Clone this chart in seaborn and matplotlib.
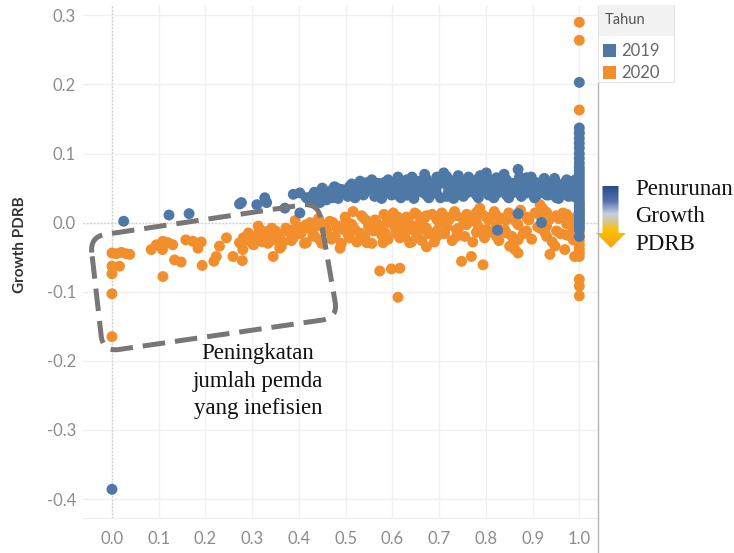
import numpy as np
import pandas as pd
import matplotlib
matplotlib.use("Agg")
import matplotlib.pyplot as plt
import seaborn as sns
from matplotlib.path import Path
from matplotlib.patches import PathPatch, Polygon, Rectangle, Patch
from matplotlib.colors import LinearSegmentedColormap
from matplotlib.lines import Line2D

# ---------------- data ----------------
years = ["2019", "2020"]
colors = ["#4e79a7", "#f28e2b"]

x_2019 = [0.0, 0.025, 0.122, 0.165, 0.273, 0.277, 0.31, 0.327, 0.331, 0.37, 0.388, 0.402, 0.402, 0.416,
          0.445, 0.459, 0.481, 0.495, 0.516, 0.534, 0.552, 0.573, 0.588, 0.609, 0.631, 0.644, 0.655, 0.445, 0.459, 0.438,
          0.425, 0.430, 0.452, 0.468, 0.472, 0.488, 0.502, 0.508, 0.523, 0.528, 0.541, 0.546, 0.558, 0.565, 0.579,
          0.583, 0.594, 0.600, 0.604, 0.615, 0.620, 0.626, 0.637, 0.648,
          0.630, 0.630, 0.652, 0.652, 0.673, 0.673, 0.673, 0.695, 0.695, 0.695, 0.716, 0.716, 0.716,
          0.737, 0.737, 0.737, 0.759, 0.759, 0.759, 0.780, 0.780, 0.780, 0.801, 0.801, 0.801,
          0.823, 0.823, 0.823, 0.844, 0.844, 0.844, 0.869, 0.869, 0.869, 0.887, 0.887, 0.887,
          0.908, 0.908, 0.908, 0.930, 0.930, 0.930, 0.951, 0.951, 0.951, 0.973, 0.973, 0.973, 0.987, 0.987, 0.987,
          0.640, 0.662, 0.684, 0.705, 0.727, 0.748, 0.770, 0.791, 0.812, 0.833, 0.856, 0.878, 0.898, 0.919, 0.940,
          0.962, 0.980, 0.995,
          0.825, 0.869, 0.919,
          1.0, 1.0, 1.0, 1.0, 1.0, 1.0, 1.0, 1.0, 1.0, 1.0, 1.0, 1.0, 1.0, 1.0, 1.0, 1.0, 1.0, 1.0, 1.0,
          1.0, 1.0, 1.0, 1.0, 1.0, 1.0, 1.0, 1.0, 1.0, 1.0]
y_2019 = [-0.386, 0.002, 0.011, 0.013, 0.027, 0.029, 0.026, 0.036, 0.029, 0.021, 0.041, 0.043, 0.014, 0.036,
          0.045, 0.043, 0.050, 0.045, 0.048, 0.053, 0.055, 0.050, 0.055, 0.060, 0.062, 0.058, 0.048, 0.029, 0.033, 0.036,
          0.030, 0.040, 0.038, 0.046, 0.036, 0.040, 0.043, 0.052, 0.041, 0.047, 0.044, 0.058, 0.046, 0.052, 0.043,
          0.058, 0.047, 0.052, 0.041, 0.055, 0.047, 0.052, 0.045, 0.052,
          0.055, 0.040, 0.060, 0.045, 0.063, 0.050, 0.040, 0.066, 0.052, 0.042, 0.067, 0.055, 0.038,
          0.063, 0.048, 0.040, 0.060, 0.050, 0.043, 0.062, 0.053, 0.040, 0.072, 0.058, 0.045,
          0.065, 0.050, 0.042, 0.062, 0.052, 0.040, 0.077, 0.060, 0.048, 0.065, 0.054, 0.043,
          0.058, 0.048, 0.039, 0.060, 0.050, 0.040, 0.057, 0.047, 0.036, 0.062, 0.050, 0.042, 0.060, 0.048, 0.038,
          0.050, 0.055, 0.046, 0.060, 0.052, 0.056, 0.046, 0.050, 0.055, 0.046, 0.057, 0.050, 0.053, 0.044, 0.055,
          0.044, 0.055, 0.045,
          -0.011, 0.013, 0.0,
          0.203, 0.137, 0.130, 0.122, 0.115, 0.108, 0.100, 0.093, 0.086, 0.080, 0.075, 0.070, 0.065, 0.060, 0.055,
          0.050, 0.045, 0.040, 0.035, 0.030, 0.025, 0.020, 0.015, 0.010, 0.005, 0.000, -0.005, -0.010, -0.020]

# additional 2019 points filling the dense band
x_2019_band = [0.420, 0.433, 0.441, 0.450, 0.463, 0.476, 0.484, 0.492, 0.505, 0.513, 0.520, 0.531, 0.538, 0.549,
               0.556, 0.562, 0.570, 0.577, 0.586, 0.591, 0.598, 0.607, 0.612, 0.618, 0.624, 0.634, 0.642, 0.646,
               0.658, 0.664, 0.669, 0.678, 0.682, 0.690, 0.699, 0.703, 0.710, 0.720, 0.724, 0.731, 0.741, 0.745,
               0.752, 0.763, 0.767, 0.775, 0.784, 0.788, 0.796, 0.806, 0.810, 0.817, 0.828, 0.832, 0.839, 0.849,
               0.853, 0.861, 0.872, 0.876, 0.883, 0.893, 0.897, 0.904, 0.913, 0.917, 0.925, 0.935, 0.944, 0.947,
               0.956, 0.966, 0.969, 0.977, 0.984, 0.992]
y_2019_band = [0.036, 0.044, 0.032, 0.050, 0.040, 0.052, 0.035, 0.048, 0.038, 0.056, 0.036, 0.060, 0.040, 0.050,
               0.062, 0.038, 0.057, 0.035, 0.048, 0.062, 0.040, 0.050, 0.066, 0.036, 0.058, 0.040, 0.066, 0.035,
               0.060, 0.044, 0.070, 0.036, 0.056, 0.046, 0.060, 0.036, 0.072, 0.045, 0.058, 0.035, 0.068, 0.052,
               0.038, 0.066, 0.045, 0.056, 0.036, 0.068, 0.050, 0.040, 0.062, 0.036, 0.058, 0.046, 0.070, 0.036,
               0.056, 0.044, 0.066, 0.038, 0.058, 0.046, 0.066, 0.036, 0.054, 0.044, 0.064, 0.040, 0.052, 0.064,
               0.035, 0.056, 0.046, 0.038, 0.052, 0.062]

x_2020 = [0.0, 0.0, 0.0, 0.0, 0.0, 0.009, 0.02, 0.031, 0.038, 0.016, 0.084, 0.095, 0.109, 0.12, 0.130, 0.108,
          0.134, 0.148, 0.109, 0.158, 0.173, 0.191, 0.184, 0.193, 0.230, 0.245, 0.223, 0.218, 0.259, 0.273,
          0.287, 0.28, 0.279,
          0.281, 0.295, 0.317, 0.331, 0.345, 0.359, 0.381, 0.395, 0.409, 0.424, 0.438, 0.452, 0.473, 0.488,
          0.502, 0.516, 0.520, 0.538, 0.552, 0.573, 0.588, 0.602, 0.616, 0.630, 0.644, 0.659,
          0.345, 0.359, 0.416, 0.445, 0.488, 0.509, 0.545, 0.580, 0.616, 0.637,
          0.300, 0.310, 0.322, 0.338, 0.350, 0.366, 0.372, 0.388, 0.400, 0.415, 0.430, 0.460, 0.478, 0.495,
          0.512, 0.530, 0.545, 0.560, 0.566, 0.585, 0.595, 0.608, 0.622, 0.650,
          0.630, 0.630, 0.652, 0.652, 0.652, 0.673, 0.673, 0.695, 0.695, 0.695, 0.716, 0.716,
          0.737, 0.737, 0.737, 0.759, 0.759, 0.780, 0.780, 0.780, 0.787, 0.801, 0.801,
          0.823, 0.823, 0.823, 0.844, 0.844, 0.869, 0.869, 0.869, 0.887, 0.887,
          0.916, 0.916, 0.916, 0.930, 0.930, 0.930, 0.951, 0.951, 0.973, 0.973, 0.973, 0.987, 0.987, 0.987,
          0.673, 0.748, 0.769, 0.794, 0.851, 0.862, 0.869, 0.937, 0.948, 0.969, 0.990, 0.612, 0.573, 0.598, 0.616,
          1.0, 1.0, 1.0, 1.0, 1.0, 1.0, 1.0, 1.0, 1.0, 1.0, 1.0, 1.0, 1.0, 1.0, 1.0, 1.0, 1.0, 1.0, 1.0,
          1.0, 1.0]
y_2020 = [-0.044, -0.063, -0.074, -0.103, -0.165, -0.045, -0.043, -0.045, -0.046, -0.063, -0.039, -0.032,
          -0.027, -0.029, -0.032, -0.039, -0.054, -0.057, -0.078, -0.025, -0.027, -0.028, -0.037, -0.062,
          -0.034, -0.022, -0.049, -0.056, -0.049, -0.029, -0.025, -0.039, -0.055,
          -0.022, -0.025, -0.010, -0.013, -0.025, -0.020, -0.015, -0.005, -0.010, 0.000, -0.005, -0.003, 0.000,
          -0.005, 0.002, 0.016, -0.010, 0.007, -0.005, -0.010, 0.000, 0.014, -0.005, 0.000, -0.010, 0.000,
          -0.049, -0.037, -0.029, -0.025, -0.037, -0.022, -0.029, -0.029, -0.022, -0.029,
          -0.030, -0.018, -0.028, -0.020, -0.012, -0.028, -0.008, -0.022, -0.015, -0.003, -0.018, -0.012,
          -0.020, -0.010, -0.002, -0.015, 0.003, -0.012, 0.000, -0.015, 0.005, -0.015, 0.003, -0.005,
          0.008, -0.012, 0.012, -0.005, -0.018, 0.010, -0.008, 0.005, -0.012, -0.020, 0.008, -0.006,
          0.010, -0.010, -0.020, 0.012, -0.003, 0.015, 0.000, -0.014, 0.021, 0.008, -0.010,
          0.010, -0.005, -0.020, 0.004, -0.015, 0.012, -0.003, -0.025, 0.008, -0.012,
          0.026, 0.010, -0.008, 0.015, -0.005, -0.020, 0.010, -0.012, 0.012, -0.002, -0.018, 0.005, -0.010, -0.025,
          -0.035, -0.056, -0.049, -0.061, -0.034, -0.039, -0.044, -0.046, -0.034, -0.039, -0.049, -0.108, -0.070,
          -0.067, -0.066,
          0.290, 0.264, 0.163, 0.129, 0.028, 0.022, 0.016, 0.010, 0.004, -0.002, -0.008, -0.014, -0.020,
          -0.026, -0.032, -0.038, -0.044, -0.049, -0.082, -0.092, -0.106]

# additional 2020 points filling the dense band
x_2020_band = [0.292, 0.303, 0.313, 0.326, 0.334, 0.342, 0.355, 0.362, 0.376, 0.384, 0.392, 0.404, 0.412, 0.420,
               0.434, 0.442, 0.449, 0.456, 0.466, 0.470, 0.482, 0.491, 0.499, 0.506, 0.514, 0.524, 0.534, 0.541,
               0.549, 0.556, 0.563, 0.577, 0.582, 0.591, 0.605, 0.612, 0.626, 0.634, 0.641, 0.648, 0.656, 0.663,
               0.668, 0.677, 0.685, 0.690, 0.700, 0.706, 0.712, 0.721, 0.728, 0.733, 0.742, 0.750, 0.755, 0.764,
               0.772, 0.776, 0.784, 0.792, 0.797, 0.806, 0.813, 0.818, 0.828, 0.835, 0.840, 0.849, 0.856, 0.864,
               0.874, 0.880, 0.892, 0.898, 0.905, 0.911, 0.922, 0.926, 0.935, 0.942, 0.956, 0.960, 0.965, 0.978,
               0.982, 0.994]
y_2020_band = [-0.015, -0.032, -0.005, -0.022, -0.030, -0.008, -0.018, -0.035, -0.010, -0.026,
               0.003, -0.016, -0.030, -0.008, -0.020, 0.006, -0.030, -0.012, 0.002, -0.024,
               -0.008, -0.030, 0.008, -0.018, -0.004, -0.028, 0.010, -0.020, -0.006, -0.030,
               0.004, -0.018, 0.012, -0.024, -0.006, 0.008, -0.020, 0.004, -0.028, 0.014,
               -0.012, -0.026, 0.006, -0.016, 0.012, -0.028, 0.000, 0.014, -0.016, 0.004,
               -0.026, 0.016, -0.008, 0.006, -0.020, 0.010, -0.028, 0.002, -0.006, 0.012,
               -0.022, 0.004, -0.014, 0.016, -0.026, 0.006, -0.010, 0.014, -0.020, 0.002,
               0.018, -0.016, 0.004, -0.024, 0.014, -0.006, 0.020, -0.014, 0.004, -0.028,
               0.006, -0.016, 0.014, 0.002, -0.020, 0.008]

x_ticks = [0.0, 0.1, 0.2, 0.3, 0.4, 0.5, 0.6, 0.7, 0.8, 0.9, 1.0]
y_ticks = [-0.4, -0.3, -0.2, -0.1, 0.0, 0.1, 0.2, 0.3]
x_ticklabels = ["0.0", "0.1", "0.2", "0.3", "0.4", "0.5", "0.6", "0.7", "0.8", "0.9", "1.0"]
y_ticklabels = ["-0.4", "-0.3", "-0.2", "-0.1", "0.0", "0.1", "0.2", "0.3"]

df = pd.concat([
    pd.DataFrame({"Efisiensi": x_2020 + x_2020_band, "Growth PDRB": y_2020 + y_2020_band, "Tahun": "2020"}),
    pd.DataFrame({"Efisiensi": x_2019_band + x_2019, "Growth PDRB": y_2019_band + y_2019, "Tahun": "2019"}),
], ignore_index=True)

# ---------------- figure ----------------
sns.set_style("white")
plt.rcParams["font.family"] = ["Lato", "DejaVu Sans"]

W, H = 734, 553
fig = plt.figure(figsize=(W / 100, H / 100), dpi=100)

def fx(px):
    return px / W

def fy(py):
    return 1 - py / H

ax = fig.add_axes([fx(83), fy(518), (598 - 83) / W, (518 - 5) / H])
sns.scatterplot(data=df, x="Efisiensi", y="Growth PDRB", hue="Tahun",
                palette=dict(zip(years, colors)), s=62, edgecolor="none", linewidth=0,
                alpha=1.0, legend=False, ax=ax, zorder=3)

ax.set_xlim(-0.062, 1.04)
ax.set_ylim(-0.4275, 0.315)
ax.set_xticks(x_ticks)
ax.set_xticklabels(x_ticklabels)
ax.set_yticks(y_ticks)
ax.set_yticklabels(y_ticklabels)
ax.tick_params(axis="both", length=0, labelsize=12, labelcolor="#8c8c8c")
ax.tick_params(axis="x", pad=9)
ax.tick_params(axis="y", pad=5)
ax.grid(True, color="#f0f0f0", linewidth=1.0, zorder=0)
ax.axhline(0, color="#cccccc", linestyle=(0, (1, 1.5)), linewidth=1.0, zorder=1)
ax.axvline(0, color="#cccccc", linestyle=(0, (1, 1.5)), linewidth=1.0, zorder=1)
for s in ["top", "right", "left"]:
    ax.spines[s].set_visible(False)
ax.spines["bottom"].set_color("#eeeeee")
ax.set_xlabel("")
ax.set_ylabel("")

fig.text(fx(20), fy(245), "Growth PDRB", rotation=90, ha="center", va="center",
         fontsize=11, fontweight="bold", color="#333333")

# right separator line below legend
fig.add_artist(Line2D([fx(598), fx(598)], [fy(82), fy(553)], color="#b5b5b5", lw=1.0))

# ---------------- legend ----------------
fig.add_artist(Rectangle((fx(598), fy(82)), (674 - 598) / W, (82 - 5) / H,
                         transform=fig.transFigure, facecolor="white", edgecolor="#e3e3e3", lw=0.8, zorder=4))
fig.add_artist(Rectangle((fx(598.5), fy(36)), (673.5 - 598.5) / W, (36 - 5.5) / H,
                         transform=fig.transFigure, facecolor="#f2f2f2", edgecolor="none", zorder=4))
fig.text(fx(605), fy(20), "Tahun", ha="left", va="center", fontsize=10.5, color="#555555", zorder=5)
handles = [Patch(facecolor=c, edgecolor="none") for c in colors]
leg = fig.legend(handles, years, loc="upper left",
                 bbox_to_anchor=(fx(600), fy(40)), bbox_transform=fig.transFigure,
                 frameon=False, fontsize=12,
                 handlelength=0.75, handleheight=0.75, handletextpad=0.35,
                 labelspacing=0.36, borderpad=0.2, borderaxespad=0)
leg.set_zorder(5)
for t in leg.get_texts():
    t.set_color("#666666")

# ---------------- annotations ----------------
def to_data(px, py):
    return ((px - 112) / 467.5, (223 - py) / 690)

corners_px = [(90, 237), (318, 203), (338, 318), (103, 352)]
r = 16.0
verts, codes = [], []
n = len(corners_px)
for i in range(n):
    p = np.array(corners_px[i], float)
    prev = np.array(corners_px[i - 1], float)
    nxt = np.array(corners_px[(i + 1) % n], float)
    a = p + (prev - p) / np.linalg.norm(prev - p) * r
    b = p + (nxt - p) / np.linalg.norm(nxt - p) * r
    verts.append(to_data(*a)); codes.append(Path.MOVETO if i == 0 else Path.LINETO)
    verts.append(to_data(*p)); codes.append(Path.CURVE3)
    verts.append(to_data(*b)); codes.append(Path.CURVE3)
p0 = np.array(corners_px[0], float)
pl = np.array(corners_px[-1], float)
a0 = p0 + (pl - p0) / np.linalg.norm(pl - p0) * r
verts.append(to_data(*a0)); codes.append(Path.LINETO)
ax.add_patch(PathPatch(Path(verts, codes), facecolor="none", edgecolor="#777777",
                       lw=3.6, linestyle=(0, (4.5, 2)), zorder=4, clip_on=False))

serif = ["Liberation Serif", "DejaVu Serif"]
fig.text(fx(258), fy(381), "Peningkatan\njumlah pemda\nyang inefisien", ha="center", va="center",
         multialignment="center", fontsize=16.5, family=serif, color="#111111", linespacing=1.38)
fig.text(fx(635), fy(217), "Penurunan\nGrowth\nPDRB", ha="left", va="center",
         multialignment="left", fontsize=16.5, family=serif, color="#111111", linespacing=1.38)

# gradient arrow
aax = fig.add_axes([fx(596), fy(249), 30 / W, 63 / H])
aax.set_xlim(0, 30)
aax.set_ylim(63, 0)
aax.axis("off")
cmap = LinearSegmentedColormap.from_list("arr", [(0.0, "#27468a"), (0.25, "#5572ad"), (0.45, "#c6cfe4"),
                                                 (0.58, "#d6c58a"), (0.70, "#ffc000"), (1.0, "#f6a01a")])
grad = np.linspace(0, 1, 200).reshape(-1, 1)
im = aax.imshow(grad, cmap=cmap, aspect="auto", extent=(0, 30, 63, 0))
arrow_poly = Polygon([(6.5, 0), (22.5, 0), (22.5, 47), (30, 47), (15, 62), (0, 47), (6.5, 47)],
                     closed=True, transform=aax.transData, facecolor="none", edgecolor="none")
aax.add_patch(arrow_poly)
im.set_clip_path(arrow_poly)

fig.savefig("out.png", dpi=100)
